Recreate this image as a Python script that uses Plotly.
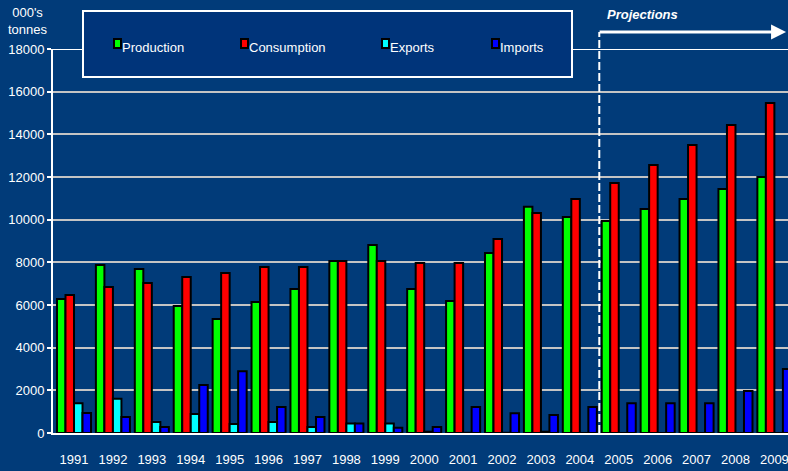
import plotly.graph_objects as go

# Data (000's tonnes)
years = [str(y) for y in range(1991, 2010)]
production = [6280, 7880, 7690, 5950, 5340, 6140, 6750, 8060, 8810, 6750,
              6190, 8440, 10600, 10130, 9940, 10500, 10970, 11440, 12000]
consumption = [6470, 6840, 7030, 7310, 7500, 7780, 7780, 8060, 8060, 7970,
               7970, 9090, 10310, 10970, 11720, 12560, 13500, 14440, 15470]
exports = [1400, 1600, 520, 890, 420, 520, 280, 440, 440, 60,
           10, 10, 60, 0, 0, 0, 0, 0, 0]
imports = [940, 750, 280, 2250, 2900, 1220, 750, 440, 250, 280,
           1220, 930, 840, 1220, 1400, 1400, 1400, 1970, 3000]
series_names = ['Production', 'Consumption', 'Exports', 'Imports']
series_colors = ['#00FF00', '#FF0000', '#00FFFF', '#0000FF']

BG = '#013B79'
FONT = 'Liberation Sans, Arial, sans-serif'

# plot area in pixels: left 53, right 788, top 49, bottom 433
def px_x(p):
    return (p - 53) / 735

def px_y(p):
    return (433 - p) / 384

fig = go.Figure()
for name, vals, col in zip(series_names, [production, consumption, exports, imports], series_colors):
    fig.add_trace(go.Bar(
        x=years, y=vals, name=name,
        marker=dict(color=col, line=dict(color='black', width=2)),
        showlegend=False,
    ))

shapes = []
annotations = []

# white line at top of the value axis (18000)
shapes.append(dict(type='line', xref='paper', yref='y', x0=0, x1=1, y0=18000, y1=18000,
                   line=dict(color='white', width=2)))

# legend box
shapes.append(dict(type='rect', xref='paper', yref='paper',
                   x0=px_x(83), x1=px_x(572), y0=px_y(77), y1=px_y(11),
                   fillcolor='#00347A', line=dict(color='white', width=2)))

swatch_left = [114, 241, 382, 492]
for name, col, sx in zip(series_names, series_colors, swatch_left):
    shapes.append(dict(type='rect', xref='paper', yref='paper',
                       x0=px_x(sx), x1=px_x(sx + 7), y0=px_y(48), y1=px_y(39),
                       fillcolor=col, line=dict(color='black', width=2)))
    annotations.append(dict(text=name, xref='paper', yref='paper', x=px_x(sx + 6), y=px_y(48),
                            xanchor='left', yanchor='middle', showarrow=False,
                            font=dict(color='white', size=13, family=FONT)))

# projections divider and arrow
shapes.append(dict(type='line', xref='x', yref='paper', x0=13.5, x1=13.5, y0=0, y1=px_y(32),
                   line=dict(color='white', width=2, dash='8px,3px')))
annotations.append(dict(text='', xref='x', yref='paper', x=18.3, y=px_y(32),
                        axref='x', ax=13.47, ayref='pixel', ay=0,
                        showarrow=True, arrowhead=2, arrowsize=1, arrowwidth=3, arrowcolor='white'))
annotations.append(dict(text='<b><i>Projections</i></b>', xref='x', yref='paper', x=13.5, y=px_y(15),
                        xanchor='left', yanchor='middle', xshift=6, showarrow=False,
                        font=dict(color='white', size=13, family=FONT)))

# y axis title
annotations.append(dict(text="000's<br>tonnes", xref='paper', yref='paper', x=px_x(28), y=px_y(21),
                        xanchor='center', yanchor='middle', showarrow=False, align='center',
                        font=dict(color='white', size=13, family=FONT)))

fig.update_layout(
    width=788, height=471,
    margin=dict(l=53, r=0, t=49, b=38),
    paper_bgcolor=BG, plot_bgcolor=BG,
    font=dict(family=FONT, color='white', size=13),
    barmode='group', bargap=0.125, bargroupgap=0,
    shapes=shapes, annotations=annotations,
    xaxis=dict(type='category', range=[-0.54, 18.35], showgrid=False, automargin=False,
               showline=True, linecolor='white', linewidth=2,
               ticks='outside', ticklen=13, tickcolor=BG,
               tickfont=dict(color='white', size=13)),
    yaxis=dict(range=[0, 18000], dtick=2000, tickformat='d', automargin=False,
               showgrid=True, gridcolor='#C4C4C4', gridwidth=2,
               zeroline=False, showline=True, linecolor='white', linewidth=2,
               ticks='outside', ticklen=4, tickcolor='white', tickwidth=2,
               tickfont=dict(color='white', size=13)),
)

# drop the default page margin so the figure fills the window
fig.write_html('out.html', config={'displayModeBar': False},
               post_script="document.body.style.margin='0';")
